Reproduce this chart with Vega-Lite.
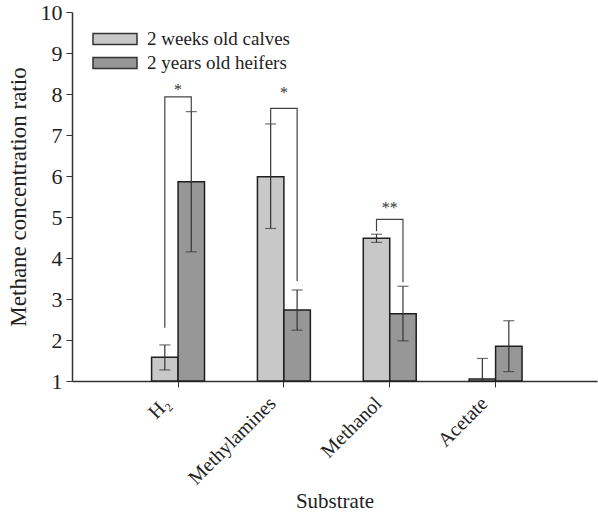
{
  "$schema": "https://vega.github.io/schema/vega-lite/v6.json",
  "autosize": "none",
  "width": 525,
  "height": 369,
  "padding": {"left": 72, "top": 12, "right": 1, "bottom": 131},
  "background": "white",
  "config": {
    "view": {"stroke": null},
    "font": "Liberation Serif",
    "axis": {"grid": false, "domainColor": "#333", "tickColor": "#333", "labelColor": "#222", "titleColor": "#222", "labelFont": "Liberation Serif", "titleFont": "Liberation Serif", "titleFontWeight": "normal"},
    "legend": {"labelFont": "Liberation Serif"}
  },
  "datasets": {
    "bars": [
      {"substrate": "H₂", "group": "2 weeks old calves", "value": 1.58, "lo": 1.27, "hi": 1.88},
      {"substrate": "H₂", "group": "2 years old heifers", "value": 5.86, "lo": 4.15, "hi": 7.57},
      {"substrate": "Methylamines", "group": "2 weeks old calves", "value": 5.98, "lo": 4.72, "hi": 7.27},
      {"substrate": "Methylamines", "group": "2 years old heifers", "value": 2.73, "lo": 2.24, "hi": 3.22},
      {"substrate": "Methanol", "group": "2 weeks old calves", "value": 4.48, "lo": 4.38, "hi": 4.58},
      {"substrate": "Methanol", "group": "2 years old heifers", "value": 2.64, "lo": 1.98, "hi": 3.31},
      {"substrate": "Acetate", "group": "2 weeks old calves", "value": 1.05, "lo": 0.55, "hi": 1.55},
      {"substrate": "Acetate", "group": "2 years old heifers", "value": 1.85, "lo": 1.23, "hi": 2.47}
    ],
    "brackets": [
      {"bracket": "b1", "substrate": "H₂", "group": "2 weeks old calves", "y": 2.30, "step": 1},
      {"bracket": "b1", "substrate": "H₂", "group": "2 weeks old calves", "y": 7.93, "step": 2},
      {"bracket": "b1", "substrate": "H₂", "group": "2 years old heifers", "y": 7.93, "step": 3},
      {"bracket": "b1", "substrate": "H₂", "group": "2 years old heifers", "y": 7.57, "step": 4},
      {"bracket": "b2", "substrate": "Methylamines", "group": "2 weeks old calves", "y": 7.27, "step": 1},
      {"bracket": "b2", "substrate": "Methylamines", "group": "2 weeks old calves", "y": 7.65, "step": 2},
      {"bracket": "b2", "substrate": "Methylamines", "group": "2 years old heifers", "y": 7.65, "step": 3},
      {"bracket": "b2", "substrate": "Methylamines", "group": "2 years old heifers", "y": 3.44, "step": 4},
      {"bracket": "b3", "substrate": "Methanol", "group": "2 weeks old calves", "y": 4.65, "step": 1},
      {"bracket": "b3", "substrate": "Methanol", "group": "2 weeks old calves", "y": 4.94, "step": 2},
      {"bracket": "b3", "substrate": "Methanol", "group": "2 years old heifers", "y": 4.94, "step": 3},
      {"bracket": "b3", "substrate": "Methanol", "group": "2 years old heifers", "y": 3.41, "step": 4}
    ],
    "stars": [
      {"substrate": "H₂", "y": 7.98, "label": "*"},
      {"substrate": "Methylamines", "y": 7.9, "label": "*"},
      {"substrate": "Methanol", "y": 5.1, "label": "**"}
    ]
  },
  "encoding": {
    "x": {
      "field": "substrate", "type": "nominal",
      "sort": ["H₂", "Methylamines", "Methanol", "Acetate"],
      "scale": {"domain": ["H₂", "Methylamines", "Methanol", "Acetate"], "paddingInner": 0.5, "paddingOuter": 0.73, "align": 0.515},
      "axis": {"title": "Substrate", "titleFontSize": 21, "titleY": 126, "titleBaseline": "alphabetic", "labelAngle": -45, "labelFontSize": 20, "tickSize": 6, "domainWidth": 1.5, "labelPadding": 13, "labelOffset": -11, "labelBaseline": "middle"}
    }
  },
  "layer": [
    {
      "data": {"name": "bars"},
      "mark": {"type": "bar", "stroke": "#1e1e1e", "strokeWidth": 1.5},
      "encoding": {
        "xOffset": {"field": "group", "type": "nominal", "sort": ["2 weeks old calves", "2 years old heifers"], "scale": {"paddingInner": 0, "paddingOuter": 0}},
        "y": {"field": "value", "type": "quantitative", "scale": {"domain": [1, 10], "zero": false, "nice": false},
              "axis": {"title": "Methane concentration ratio", "titleFontSize": 23, "titlePadding": 10, "labelFontSize": 22, "values": [1,2,3,4,5,6,7,8,9,10], "tickSize": 6, "domainWidth": 1.5, "labelPadding": 4}},
        "y2": {"datum": 1},
        "fill": {"field": "group", "type": "nominal", "sort": ["2 weeks old calves", "2 years old heifers"],
                 "scale": {"range": ["#c8c8c8", "#979797"]},
                 "legend": {"title": null, "orient": "none", "legendX": 31, "legendY": 15, "labelFontSize": 19, "labelColor": "#222", "symbolType": "M-2,-0.5H2V0.5H-2Z", "symbolSize": 484, "symbolStrokeColor": "#333", "symbolStrokeWidth": 1.5, "rowPadding": 2, "labelOffset": 20, "padding": 0}}
      }
    },
    {
      "data": {"name": "bars"},
      "mark": {"type": "rule", "color": "#333", "strokeWidth": 1.2, "clip": true},
      "encoding": {
        "xOffset": {"field": "group", "type": "nominal", "sort": ["2 weeks old calves", "2 years old heifers"]},
        "y": {"field": "lo", "type": "quantitative"},
        "y2": {"field": "hi"}
      }
    },
    {
      "data": {"name": "bars"},
      "mark": {"type": "tick", "color": "#333", "thickness": 1.2, "size": 11, "clip": true},
      "encoding": {
        "xOffset": {"field": "group", "type": "nominal", "sort": ["2 weeks old calves", "2 years old heifers"]},
        "y": {"field": "lo", "type": "quantitative"}
      }
    },
    {
      "data": {"name": "bars"},
      "mark": {"type": "tick", "color": "#333", "thickness": 1.2, "size": 11},
      "encoding": {
        "xOffset": {"field": "group", "type": "nominal", "sort": ["2 weeks old calves", "2 years old heifers"]},
        "y": {"field": "hi", "type": "quantitative"}
      }
    },
    {
      "data": {"name": "brackets"},
      "mark": {"type": "line", "color": "#444", "strokeWidth": 1.2},
      "encoding": {
        "xOffset": {"field": "group", "type": "nominal", "sort": ["2 weeks old calves", "2 years old heifers"]},
        "y": {"field": "y", "type": "quantitative"},
        "detail": {"field": "bracket"},
        "order": {"field": "step", "type": "quantitative"}
      }
    },
    {
      "data": {"name": "stars"},
      "mark": {"type": "text", "fontSize": 16, "fill": "#333", "baseline": "alphabetic"},
      "encoding": {
        "y": {"field": "y", "type": "quantitative"},
        "text": {"field": "label"}
      }
    }
  ]
}
